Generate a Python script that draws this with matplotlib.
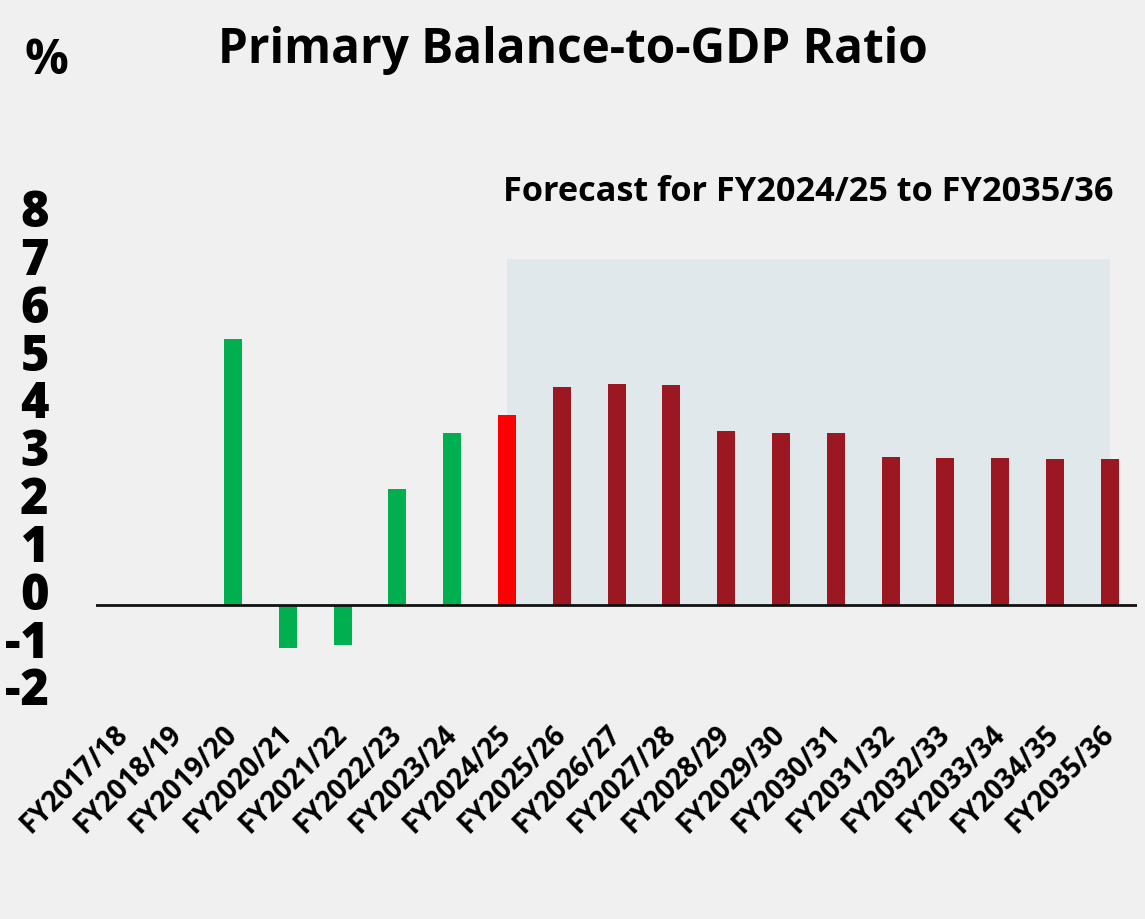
import matplotlib
matplotlib.use("Agg")
import matplotlib.pyplot as plt
import numpy as np

categories = ["FY2017/18", "FY2018/19", "FY2019/20", "FY2020/21", "FY2021/22",
              "FY2022/23", "FY2023/24", "FY2024/25", "FY2025/26", "FY2026/27",
              "FY2027/28", "FY2028/29", "FY2029/30", "FY2030/31", "FY2031/32",
              "FY2032/33", "FY2033/34", "FY2034/35", "FY2035/36"]
values = [np.nan, np.nan, 5.38, -0.89, -0.81, 2.35, 3.47, 3.83, 4.40, 4.46,
          4.44, 3.51, 3.47, 3.48, 2.98, 2.96, 2.96, 2.95, 2.95]
kinds = ["actual"] * 7 + ["current"] + ["forecast"] * 11
yticks = [-2, -1, 0, 1, 2, 3, 4, 5, 6, 7, 8]
forecast_start = "FY2024/25"
forecast_end = "FY2035/36"
forecast_top = 7

colors = {"actual": "#00b050", "current": "#ff0000", "forecast": "#9b1722"}
BG = "#f0f0f0"
SHADE = "#e1e8ec"
FONT = "Open Sans"

fig = plt.figure(figsize=(11.45, 9.19), dpi=100, facecolor=BG)
ax = fig.add_axes([96 / 1145, 1 - 723 / 919, (1137.2 - 96) / 1145, (723 - 160.3) / 919])
ax.set_facecolor(BG)

x = np.arange(len(categories))
ax.bar(x, values, width=0.33, color=[colors[k] for k in kinds], zorder=3)

i0 = categories.index(forecast_start)
i1 = categories.index(forecast_end)
ax.fill_between([i0, i1], 0, forecast_top, color=SHADE, zorder=1, linewidth=0)
ax.axhline(0, color="#111111", linewidth=2, zorder=4)

ax.set_xlim(-0.5, len(categories) - 0.5)
ax.set_ylim(-2.4, 9.0)

for s in ax.spines.values():
    s.set_visible(False)

# y tick labels are spaced slightly tighter than the data scale in the original
label_offset, label_scale = 0.28, 0.9685
ax.set_yticks([label_offset + label_scale * v for v in yticks])
ax.set_yticklabels([str(v) for v in yticks], fontfamily=FONT, fontweight=800,
                   fontsize=35)
ax.tick_params(axis="y", length=0, pad=34)

ax.set_xticks(x)
ax.set_xticklabels(categories, rotation=45, ha="right", va="center",
                   rotation_mode="anchor", fontfamily=FONT, fontweight="bold",
                   fontsize=20)
ax.tick_params(axis="x", length=0, pad=5)

fig.text(218 / 1145, 1 - 63 / 919, "Primary Balance-to-GDP Ratio", fontfamily=FONT,
         fontweight="bold", fontsize=34.4, ha="left", va="baseline")
fig.text(24 / 1145, 1 - 74 / 919, "%", fontfamily=FONT, fontweight="bold",
         fontsize=35, ha="left", va="baseline")
ax.text(i1 + 0.07, 8.18, "Forecast for FY2024/25 to FY2035/36", fontfamily=FONT,
        fontweight="bold", fontsize=24.7, ha="right", va="baseline")

fig.savefig("out.png", dpi=100, facecolor=BG)
